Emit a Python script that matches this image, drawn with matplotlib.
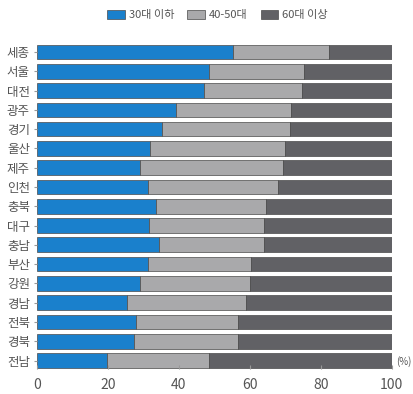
import matplotlib
matplotlib.use("Agg")
import matplotlib.pyplot as plt
import numpy as np

plt.rcParams["font.family"] = ["Noto Sans CJK KR", "DejaVu Sans"]

# --- DATA (share by age group, %) ---
REGIONS = ["세종", "서울", "대전", "광주", "경기", "울산", "제주", "인천", "충북",
           "대구", "충남", "부산", "강원", "경남", "전북", "경북", "전남"]
YOUNG = [55.4, 48.5, 47.1, 39.2, 35.4, 32.0, 29.1, 31.2, 33.6,
         31.6, 34.4, 31.4, 29.1, 25.4, 28.0, 27.4, 19.9]     # 30대 이하
MIDDLE = [26.9, 26.8, 27.6, 32.4, 35.9, 37.9, 40.2, 36.7, 30.9,
          32.5, 29.7, 29.0, 31.1, 33.6, 28.7, 29.4, 28.6]    # 40-50대
OLD = [17.7, 24.7, 25.3, 28.4, 28.7, 30.1, 30.7, 32.1, 35.5,
       35.9, 35.9, 39.6, 39.8, 41.0, 43.3, 43.2, 51.5]       # 60대 이상
LABELS = ["30대 이하", "40-50대", "60대 이상"]
XTICKS = [0, 20, 40, 60, 80, 100]

# --- STYLE ---
C_YOUNG, C_MID, C_OLD = "#1a80cc", "#a9a9ab", "#616165"
TXT = "#555555"


def main():
    fig = plt.figure(figsize=(4.14, 3.94), dpi=100)
    ax = fig.add_axes([0.089, 0.063, 0.857, 0.827])

    y = np.arange(len(REGIONS))[::-1]
    young = np.array(YOUNG)
    mid = np.array(MIDDLE)
    old = np.array(OLD)
    h = 0.76
    kw = dict(height=h, edgecolor="#4a4a4a", linewidth=0.5)
    ax.barh(y, young, color=C_YOUNG, label=LABELS[0], **kw)
    ax.barh(y, mid, left=young, color=C_MID, label=LABELS[1], **kw)
    ax.barh(y, old, left=young + mid, color=C_OLD, label=LABELS[2], **kw)

    ax.set_xlim(0, 100)
    ax.set_ylim(-0.45, len(REGIONS) - 0.55)
    ax.set_yticks(y)
    ax.set_yticklabels(REGIONS, fontsize=9, color=TXT)
    ax.set_xticks(XTICKS)
    ax.set_xticklabels([str(t) for t in XTICKS], fontsize=10, color=TXT)
    ax.tick_params(axis="y", length=2, pad=3, color="#999999")
    ax.tick_params(axis="x", length=3, direction="in", pad=6, color="#999999")
    for s in ax.spines.values():
        s.set_visible(False)

    ax.text(1.012, 0.025, "(%)", transform=ax.transAxes, fontsize=7,
            color=TXT, ha="left", va="center")

    fig.legend(loc="upper center", bbox_to_anchor=(0.525, 1.0), ncol=3,
               frameon=False, fontsize=8, handlelength=1.6, handleheight=0.8,
               columnspacing=1.2, handletextpad=0.3, labelcolor=TXT)

    fig.savefig("out.png", dpi=100)


if __name__ == "__main__":
    main()
